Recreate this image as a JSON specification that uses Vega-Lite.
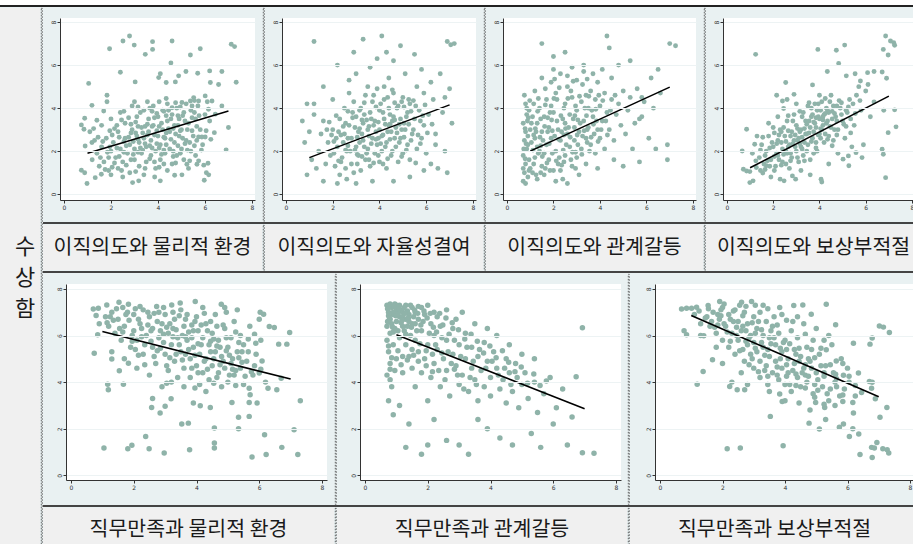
{
"$schema": "https://vega.github.io/schema/vega-lite/v6.json",
"padding": 0,
"background": "#e9f1f2",
"spacing": 0,
"config": {"concat": {"spacing": 0}, "view": {"stroke": null}, "font": "Noto Sans CJK KR"},
"datasets": {
"t1": [{"x":1.94,"y":6.76},{"x":2.51,"y":7.12},{"x":2.79,"y":7.35},{"x":2.99,"y":6.93},{"x":3.77,"y":7.09},{"x":3.77,"y":6.73},{"x":3.46,"y":6.5},{"x":4.6,"y":7.12},{"x":5.38,"y":6.47},{"x":5.8,"y":6.76},{"x":4.55,"y":6.1},{"x":2.4,"y":5.67},{"x":4.1,"y":5.6},{"x":3.03,"y":5.22},{"x":1.05,"y":5.15},{"x":5.19,"y":5.7},{"x":5.69,"y":5.62},{"x":6.2,"y":5.73},{"x":6.58,"y":5.1},{"x":6.72,"y":5.7},{"x":7.12,"y":6.97},{"x":7.26,"y":6.86},{"x":7.33,"y":5.2},{"x":7.0,"y":3.1},{"x":6.9,"y":2.06},{"x":4.03,"y":5.42},{"x":4.35,"y":5.19},{"x":4.74,"y":5.22},{"x":4.88,"y":5.5},{"x":1.83,"y":4.6},{"x":1.83,"y":4.3},{"x":1.19,"y":4.13},{"x":1.69,"y":3.87},{"x":0.88,"y":3.53},{"x":0.74,"y":3.22},{"x":0.85,"y":3.02},{"x":1.4,"y":3.44},{"x":1.26,"y":3.05},{"x":0.9,"y":2.24},{"x":1.19,"y":2.4},{"x":0.74,"y":1.11},{"x":0.88,"y":1.0},{"x":0.98,"y":0.5},{"x":1.33,"y":0.77},{"x":1.59,"y":0.93},{"x":2.0,"y":0.9},{"x":2.92,"y":0.54},{"x":3.18,"y":0.62},{"x":3.86,"y":0.8},{"x":4.1,"y":0.62},{"x":4.71,"y":0.88},{"x":5.02,"y":0.9},{"x":5.97,"y":0.65},{"x":6.16,"y":0.9},{"x":6.06,"y":1.0},{"x":6.13,"y":1.44},{"x":5.73,"y":1.55},{"x":5.66,"y":1.39},{"x":5.23,"y":1.39},{"x":6.4,"y":2.86},{"x":6.01,"y":2.66},{"x":5.73,"y":2.66},{"x":5.87,"y":2.66},{"x":6.44,"y":3.72},{"x":6.72,"y":4.1},{"x":6.3,"y":4.33},{"x":6.01,"y":4.57},{"x":5.52,"y":4.49},{"x":6.23,"y":5.19},{"x":5.73,"y":4.33},{"x":5.38,"y":4.33},{"x":5.02,"y":4.26},{"x":4.6,"y":4.02},{"x":1.2,"y":1.6},{"x":1.4,"y":1.9},{"x":1.5,"y":1.3},{"x":1.6,"y":2.2},{"x":1.7,"y":1.5},{"x":1.8,"y":2.6},{"x":1.9,"y":1.1},{"x":2.0,"y":2.0},{"x":2.1,"y":2.4},{"x":2.2,"y":1.7},{"x":2.3,"y":1.2},{"x":2.3,"y":2.9},{"x":2.4,"y":2.1},{"x":2.5,"y":1.5},{"x":2.6,"y":2.6},{"x":2.6,"y":3.3},{"x":2.7,"y":1.9},{"x":2.8,"y":1.0},{"x":2.8,"y":2.3},{"x":2.9,"y":3.0},{"x":3.0,"y":1.6},{"x":3.0,"y":2.1},{"x":3.1,"y":2.7},{"x":3.1,"y":3.6},{"x":3.2,"y":1.3},{"x":3.2,"y":2.4},{"x":3.3,"y":3.1},{"x":3.3,"y":1.9},{"x":3.4,"y":2.6},{"x":3.4,"y":3.9},{"x":3.5,"y":1.5},{"x":3.5,"y":2.2},{"x":3.6,"y":2.9},{"x":3.6,"y":3.5},{"x":3.7,"y":1.8},{"x":3.7,"y":2.5},{"x":3.8,"y":3.2},{"x":3.8,"y":4.1},{"x":3.9,"y":1.2},{"x":3.9,"y":2.0},{"x":4.0,"y":2.7},{"x":4.0,"y":3.6},{"x":4.1,"y":1.6},{"x":4.1,"y":2.3},{"x":4.2,"y":3.0},{"x":4.2,"y":3.9},{"x":4.3,"y":1.9},{"x":4.3,"y":2.6},{"x":4.4,"y":3.4},{"x":4.4,"y":4.2},{"x":4.5,"y":2.1},{"x":4.5,"y":2.9},{"x":4.6,"y":1.4},{"x":4.6,"y":3.7},{"x":4.7,"y":2.4},{"x":4.7,"y":3.2},{"x":4.8,"y":1.8},{"x":4.8,"y":4.0},{"x":4.9,"y":2.7},{"x":4.9,"y":3.5},{"x":5.0,"y":2.1},{"x":5.0,"y":3.0},{"x":5.1,"y":3.8},{"x":5.1,"y":1.6},{"x":5.2,"y":2.5},{"x":5.2,"y":4.2},{"x":5.3,"y":3.3},{"x":5.4,"y":2.0},{"x":5.4,"y":3.9},{"x":5.5,"y":2.7},{"x":5.6,"y":3.5},{"x":5.6,"y":1.8},{"x":5.7,"y":4.1},{"x":5.8,"y":3.0},{"x":5.9,"y":2.3},{"x":6.0,"y":3.7},{"x":6.1,"y":4.3},{"x":6.2,"y":3.4},{"x":1.1,"y":2.9},{"x":1.3,"y":2.5},{"x":1.6,"y":3.2},{"x":2.0,"y":3.5},{"x":2.4,"y":3.8},{"x":2.9,"y":4.1},{"x":3.0,"y":4.3},{"x":1.9,"y":1.7},{"x":2.5,"y":0.8},{"x":3.4,"y":0.9},{"x":4.4,"y":1.1},{"x":5.3,"y":1.2},{"x":2.15,"y":1.45},{"x":2.35,"y":2.65},{"x":2.55,"y":1.95},{"x":2.75,"y":3.55},{"x":2.95,"y":2.45},{"x":3.15,"y":1.95},{"x":3.35,"y":2.85},{"x":3.55,"y":3.25},{"x":3.75,"y":2.15},{"x":3.95,"y":2.95},{"x":4.15,"y":3.3},{"x":4.35,"y":2.3},{"x":4.55,"y":3.5},{"x":4.75,"y":2.8},{"x":4.95,"y":1.9},{"x":5.15,"y":3.4},{"x":5.35,"y":2.4},{"x":5.55,"y":3.8},{"x":3.25,"y":3.8},{"x":3.65,"y":4.0},{"x":4.05,"y":4.3},{"x":4.45,"y":3.9},{"x":4.85,"y":3.2},{"x":5.05,"y":2.6},{"x":2.45,"y":1.1},{"x":2.85,"y":1.6},{"x":3.45,"y":1.2},{"x":3.85,"y":1.5},{"x":4.25,"y":1.4},{"x":4.65,"y":2.0},{"x":1.75,"y":1.15},{"x":2.05,"y":2.75},{"x":2.65,"y":2.25},{"x":3.05,"y":3.35},{"x":3.45,"y":2.35},{"x":3.85,"y":2.75},{"x":4.25,"y":2.05},{"x":4.65,"y":3.05},{"x":5.25,"y":3.0},{"x":5.65,"y":2.5},{"x":3.95,"y":3.75},{"x":4.35,"y":3.65},{"x":4.75,"y":4.25},{"x":5.45,"y":4.1},{"x":3.55,"y":4.3},{"x":2.25,"y":3.2},{"x":1.95,"y":2.2},{"x":1.55,"y":1.7},{"x":3.15,"y":2.55},{"x":4.05,"y":2.15},{"x":1.65,"y":2.45},{"x":1.85,"y":1.95},{"x":2.05,"y":1.25},{"x":2.25,"y":2.15},{"x":2.45,"y":3.45},{"x":2.65,"y":1.35},{"x":2.85,"y":2.85},{"x":3.05,"y":1.05},{"x":3.25,"y":2.15},{"x":3.45,"y":3.15},{"x":3.65,"y":1.65},{"x":3.85,"y":3.55},{"x":4.05,"y":1.25},{"x":4.25,"y":2.65},{"x":4.45,"y":3.05},{"x":4.65,"y":1.75},{"x":4.85,"y":2.25},{"x":5.05,"y":3.65},{"x":5.25,"y":2.05},{"x":5.45,"y":2.95},{"x":5.65,"y":3.15},{"x":5.85,"y":2.05},{"x":6.05,"y":2.95},{"x":6.25,"y":2.55},{"x":1.45,"y":2.65},{"x":2.15,"y":3.05},{"x":2.75,"y":2.65},{"x":3.35,"y":2.05},{"x":3.95,"y":2.35},{"x":4.55,"y":2.55},{"x":5.15,"y":2.35},{"x":5.75,"y":3.65},{"x":2.55,"y":3.85},{"x":3.15,"y":4.05},{"x":3.75,"y":3.85},{"x":4.35,"y":4.45},{"x":4.95,"y":4.05},{"x":5.55,"y":4.35},{"x":6.15,"y":3.95},{"x":2.35,"y":1.75},{"x":2.95,"y":1.85},{"x":3.55,"y":2.75},{"x":4.15,"y":1.85},{"x":4.75,"y":1.45},{"x":5.35,"y":1.55},{"x":5.95,"y":1.35},{"x":1.95,"y":2.95},{"x":2.55,"y":2.45},{"x":3.15,"y":3.15},{"x":3.75,"y":3.15},{"x":4.35,"y":2.85},{"x":4.95,"y":2.95},{"x":5.55,"y":2.25},{"x":3.05,"y":2.85},{"x":3.65,"y":2.25},{"x":4.25,"y":3.85},{"x":4.85,"y":3.65},{"x":5.45,"y":3.55},{"x":2.85,"y":3.25},{"x":4.05,"y":3.15}],
"t2": [{"x":1.2,"y":7.1},{"x":2.9,"y":6.6},{"x":3.3,"y":7.2},{"x":4.1,"y":7.35},{"x":4.3,"y":6.6},{"x":4.9,"y":6.9},{"x":4.6,"y":6.2},{"x":5.5,"y":6.5},{"x":6.9,"y":7.1},{"x":7.05,"y":6.95},{"x":7.2,"y":7.0},{"x":2.2,"y":6.0},{"x":3.6,"y":5.9},{"x":3.9,"y":6.3},{"x":5.8,"y":5.8},{"x":6.6,"y":5.6},{"x":6.2,"y":5.2},{"x":7.0,"y":4.9},{"x":5.1,"y":5.6},{"x":4.4,"y":5.4},{"x":2.7,"y":5.3},{"x":1.6,"y":5.0},{"x":3.0,"y":5.6},{"x":0.9,"y":4.2},{"x":1.2,"y":4.2},{"x":0.7,"y":3.4},{"x":1.0,"y":2.9},{"x":0.8,"y":2.4},{"x":1.1,"y":1.6},{"x":1.3,"y":1.2},{"x":0.9,"y":0.9},{"x":1.6,"y":0.6},{"x":2.2,"y":0.5},{"x":1.4,"y":2.0},{"x":1.7,"y":1.4},{"x":6.5,"y":1.2},{"x":6.9,"y":1.0},{"x":6.2,"y":1.4},{"x":6.8,"y":2.0},{"x":6.4,"y":2.8},{"x":5.9,"y":1.1},{"x":5.3,"y":0.8},{"x":4.6,"y":0.6},{"x":3.7,"y":0.6},{"x":3.0,"y":0.5},{"x":2.6,"y":0.7},{"x":7.1,"y":3.3},{"x":6.7,"y":3.8},{"x":6.3,"y":4.4},{"x":5.9,"y":4.7},{"x":5.6,"y":5.0},{"x":6.8,"y":4.5},{"x":1.8,"y":2.4},{"x":1.9,"y":1.8},{"x":2.0,"y":3.0},{"x":2.1,"y":1.3},{"x":2.2,"y":2.2},{"x":2.3,"y":3.5},{"x":2.4,"y":1.7},{"x":2.5,"y":2.8},{"x":2.5,"y":4.0},{"x":2.6,"y":2.0},{"x":2.7,"y":3.2},{"x":2.8,"y":1.4},{"x":2.8,"y":2.6},{"x":2.9,"y":4.3},{"x":3.0,"y":2.2},{"x":3.0,"y":3.6},{"x":3.1,"y":1.8},{"x":3.1,"y":2.9},{"x":3.2,"y":4.0},{"x":3.2,"y":1.1},{"x":3.3,"y":2.5},{"x":3.3,"y":3.3},{"x":3.4,"y":4.6},{"x":3.4,"y":1.6},{"x":3.5,"y":2.1},{"x":3.5,"y":3.0},{"x":3.6,"y":3.8},{"x":3.6,"y":1.3},{"x":3.7,"y":2.6},{"x":3.7,"y":4.3},{"x":3.8,"y":1.9},{"x":3.8,"y":3.4},{"x":3.9,"y":2.3},{"x":3.9,"y":4.9},{"x":4.0,"y":1.5},{"x":4.0,"y":3.0},{"x":4.0,"y":3.9},{"x":4.1,"y":2.0},{"x":4.1,"y":2.7},{"x":4.2,"y":3.5},{"x":4.2,"y":4.4},{"x":4.3,"y":1.2},{"x":4.3,"y":2.4},{"x":4.4,"y":3.2},{"x":4.4,"y":4.0},{"x":4.5,"y":1.8},{"x":4.5,"y":2.9},{"x":4.6,"y":3.6},{"x":4.6,"y":4.7},{"x":4.7,"y":2.2},{"x":4.7,"y":3.1},{"x":4.8,"y":1.5},{"x":4.8,"y":4.1},{"x":4.9,"y":2.6},{"x":4.9,"y":3.5},{"x":5.0,"y":1.9},{"x":5.0,"y":4.5},{"x":5.1,"y":3.0},{"x":5.2,"y":2.3},{"x":5.2,"y":3.8},{"x":5.3,"y":1.6},{"x":5.3,"y":4.2},{"x":5.4,"y":2.8},{"x":5.5,"y":3.5},{"x":5.6,"y":2.1},{"x":5.7,"y":3.9},{"x":5.8,"y":2.6},{"x":5.9,"y":3.2},{"x":6.0,"y":1.9},{"x":6.1,"y":3.7},{"x":1.5,"y":2.8},{"x":1.6,"y":3.4},{"x":2.0,"y":4.4},{"x":2.3,"y":0.9},{"x":2.7,"y":4.7},{"x":1.2,"y":3.7},{"x":2.9,"y":1.0},{"x":3.5,"y":5.0},{"x":4.2,"y":5.0},{"x":6.4,"y":2.3},{"x":2.15,"y":2.6},{"x":2.35,"y":1.5},{"x":2.55,"y":3.3},{"x":2.75,"y":2.0},{"x":2.95,"y":3.1},{"x":3.15,"y":2.4},{"x":3.35,"y":3.7},{"x":3.55,"y":2.7},{"x":3.75,"y":3.2},{"x":3.95,"y":2.6},{"x":4.15,"y":3.8},{"x":4.35,"y":2.9},{"x":4.55,"y":3.4},{"x":4.75,"y":4.0},{"x":4.95,"y":3.0},{"x":5.15,"y":3.6},{"x":5.35,"y":2.5},{"x":5.55,"y":4.1},{"x":3.05,"y":1.4},{"x":3.45,"y":1.9},{"x":3.85,"y":2.9},{"x":4.25,"y":2.2},{"x":4.65,"y":2.6},{"x":5.05,"y":3.3},{"x":2.45,"y":2.4},{"x":2.85,"y":3.8},{"x":3.25,"y":2.8},{"x":3.65,"y":3.5},{"x":4.05,"y":4.2},{"x":4.45,"y":3.7},{"x":4.85,"y":2.4},{"x":5.25,"y":4.4},{"x":2.05,"y":1.9},{"x":2.65,"y":2.6},{"x":3.35,"y":2.2},{"x":3.95,"y":1.8},{"x":4.55,"y":2.0},{"x":5.45,"y":3.0},{"x":2.25,"y":2.9},{"x":3.15,"y":3.9},{"x":3.75,"y":4.6},{"x":4.35,"y":4.5},{"x":4.95,"y":4.3},{"x":5.75,"y":3.4},{"x":1.75,"y":3.0},{"x":2.55,"y":1.2},{"x":3.55,"y":1.6},{"x":4.15,"y":1.4},{"x":1.85,"y":3.35},{"x":2.05,"y":2.45},{"x":2.25,"y":1.55},{"x":2.45,"y":3.15},{"x":2.65,"y":2.25},{"x":2.85,"y":3.55},{"x":3.05,"y":2.65},{"x":3.25,"y":1.75},{"x":3.45,"y":3.45},{"x":3.65,"y":2.35},{"x":3.85,"y":4.05},{"x":4.05,"y":2.35},{"x":4.25,"y":3.25},{"x":4.45,"y":2.55},{"x":4.65,"y":4.25},{"x":4.85,"y":3.25},{"x":5.05,"y":2.65},{"x":5.25,"y":3.25},{"x":5.45,"y":4.35},{"x":5.65,"y":2.75},{"x":5.85,"y":3.65},{"x":6.05,"y":2.85},{"x":2.35,"y":2.75},{"x":2.95,"y":2.05},{"x":3.55,"y":3.15},{"x":4.15,"y":2.75},{"x":4.75,"y":2.85},{"x":5.35,"y":3.85},{"x":5.95,"y":4.15},{"x":2.65,"y":3.85},{"x":3.25,"y":3.45},{"x":3.85,"y":2.55},{"x":4.45,"y":3.25},{"x":5.05,"y":4.05},{"x":2.15,"y":3.65},{"x":3.35,"y":4.25},{"x":4.55,"y":4.85},{"x":3.05,"y":1.85},{"x":3.75,"y":1.45},{"x":4.35,"y":1.65},{"x":4.95,"y":1.75},{"x":5.55,"y":1.45},{"x":2.55,"y":2.05},{"x":3.15,"y":3.05},{"x":3.95,"y":3.35},{"x":4.65,"y":3.45},{"x":5.15,"y":2.05},{"x":5.75,"y":2.35},{"x":6.25,"y":3.25},{"x":1.95,"y":2.75}],
"t3": [{"x":0.7,"y":0.6},{"x":0.75,"y":1.0},{"x":0.8,"y":1.4},{"x":0.7,"y":1.8},{"x":0.85,"y":2.1},{"x":0.75,"y":2.5},{"x":0.8,"y":2.9},{"x":0.7,"y":3.3},{"x":0.85,"y":3.7},{"x":0.8,"y":4.2},{"x":0.9,"y":0.8},{"x":0.95,"y":1.6},{"x":0.9,"y":2.3},{"x":1.0,"y":3.0},{"x":0.95,"y":3.9},{"x":0.7,"y":1.2},{"x":0.8,"y":0.5},{"x":1.0,"y":1.2},{"x":0.9,"y":2.7},{"x":0.75,"y":4.6},{"x":1.1,"y":1.0},{"x":1.2,"y":1.7},{"x":1.2,"y":2.6},{"x":1.3,"y":3.3},{"x":1.3,"y":0.7},{"x":1.4,"y":2.0},{"x":1.4,"y":4.0},{"x":1.5,"y":1.3},{"x":1.5,"y":2.9},{"x":1.6,"y":3.6},{"x":1.6,"y":0.9},{"x":1.7,"y":2.3},{"x":1.7,"y":4.4},{"x":1.8,"y":1.6},{"x":1.8,"y":3.1},{"x":1.9,"y":2.6},{"x":1.9,"y":5.2},{"x":2.0,"y":1.1},{"x":2.0,"y":3.8},{"x":2.1,"y":2.0},{"x":2.1,"y":4.7},{"x":2.2,"y":3.0},{"x":2.2,"y":1.4},{"x":2.3,"y":2.5},{"x":2.3,"y":5.6},{"x":2.4,"y":3.5},{"x":2.4,"y":0.7},{"x":2.5,"y":1.8},{"x":2.5,"y":4.2},{"x":2.6,"y":2.8},{"x":2.6,"y":5.0},{"x":2.7,"y":2.2},{"x":2.7,"y":3.7},{"x":2.8,"y":1.3},{"x":2.8,"y":4.5},{"x":2.9,"y":3.1},{"x":2.9,"y":2.5},{"x":3.0,"y":1.7},{"x":3.0,"y":5.3},{"x":3.0,"y":3.9},{"x":3.1,"y":2.9},{"x":3.2,"y":4.3},{"x":3.2,"y":2.1},{"x":3.3,"y":3.4},{"x":3.3,"y":5.7},{"x":3.4,"y":1.4},{"x":3.4,"y":2.6},{"x":3.5,"y":4.0},{"x":3.5,"y":3.1},{"x":3.6,"y":4.8},{"x":3.6,"y":2.3},{"x":3.7,"y":3.6},{"x":3.8,"y":4.4},{"x":3.8,"y":1.9},{"x":3.9,"y":3.0},{"x":3.9,"y":5.2},{"x":4.0,"y":2.6},{"x":4.0,"y":4.1},{"x":4.1,"y":3.4},{"x":4.2,"y":4.7},{"x":4.2,"y":2.1},{"x":4.3,"y":3.8},{"x":4.4,"y":3.0},{"x":4.5,"y":4.4},{"x":4.5,"y":5.4},{"x":4.6,"y":2.5},{"x":4.7,"y":3.7},{"x":4.8,"y":4.2},{"x":4.9,"y":3.2},{"x":5.0,"y":4.8},{"x":5.1,"y":2.8},{"x":5.2,"y":3.9},{"x":5.3,"y":4.5},{"x":5.5,"y":3.3},{"x":5.6,"y":4.9},{"x":5.8,"y":3.6},{"x":5.9,"y":4.3},{"x":6.1,"y":2.6},{"x":6.3,"y":4.0},{"x":6.6,"y":4.7},{"x":6.9,"y":2.3},{"x":1.2,"y":4.8},{"x":1.5,"y":5.4},{"x":2.0,"y":5.8},{"x":2.8,"y":5.9},{"x":3.7,"y":5.6},{"x":4.1,"y":5.8},{"x":1.6,"y":1.9},{"x":2.3,"y":1.1},{"x":1.3,"y":2.2},{"x":2.6,"y":0.5},{"x":3.1,"y":0.9},{"x":3.9,"y":1.2},{"x":4.6,"y":1.6},{"x":5.4,"y":2.1},{"x":5.7,"y":1.5},{"x":1.1,"y":3.6},{"x":2.5,"y":3.3},{"x":3.4,"y":4.6},{"x":1.9,"y":4.1},{"x":2.1,"y":0.6},{"x":1.5,"y":7.0},{"x":2.0,"y":6.4},{"x":4.3,"y":7.35},{"x":4.4,"y":6.8},{"x":7.0,"y":7.0},{"x":7.25,"y":6.9},{"x":3.3,"y":6.0},{"x":2.6,"y":5.5},{"x":5.7,"y":3.5},{"x":5.8,"y":4.5},{"x":6.2,"y":5.4},{"x":6.5,"y":5.8},{"x":5.3,"y":6.2},{"x":4.8,"y":6.0},{"x":2.5,"y":6.6},{"x":6.9,"y":1.6},{"x":6.4,"y":2.1},{"x":5.0,"y":1.3},{"x":1.15,"y":1.4},{"x":1.25,"y":2.9},{"x":1.35,"y":1.9},{"x":1.45,"y":3.5},{"x":1.55,"y":2.5},{"x":1.65,"y":1.2},{"x":1.75,"y":2.9},{"x":1.85,"y":3.8},{"x":1.95,"y":1.9},{"x":2.05,"y":2.7},{"x":2.15,"y":3.4},{"x":2.25,"y":1.7},{"x":2.35,"y":2.9},{"x":2.45,"y":4.0},{"x":2.55,"y":2.3},{"x":2.65,"y":3.1},{"x":2.75,"y":1.6},{"x":2.85,"y":3.5},{"x":2.95,"y":4.1},{"x":3.05,"y":2.3},{"x":3.15,"y":3.3},{"x":3.25,"y":2.7},{"x":3.35,"y":4.0},{"x":3.45,"y":3.0},{"x":3.55,"y":2.0},{"x":3.65,"y":3.9},{"x":3.75,"y":2.8},{"x":3.85,"y":3.4},{"x":3.95,"y":4.6},{"x":4.05,"y":3.0},{"x":1.05,"y":2.4},{"x":1.05,"y":3.3},{"x":1.15,"y":4.2},{"x":1.25,"y":0.9},{"x":1.45,"y":1.0},{"x":1.85,"y":1.1},{"x":2.45,"y":1.5},{"x":2.95,"y":1.2},{"x":3.45,"y":2.4},{"x":4.25,"y":3.4},{"x":4.45,"y":3.9},{"x":4.65,"y":4.6},{"x":2.15,"y":4.4},{"x":1.65,"y":4.9},{"x":2.75,"y":4.8},{"x":3.25,"y":5.1},{"x":0.85,"y":4.0},{"x":0.95,"y":1.1},{"x":0.72,"y":2.1},{"x":0.88,"y":3.4},{"x":0.78,"y":1.65},{"x":0.82,"y":2.35},{"x":0.78,"y":3.05},{"x":0.92,"y":3.55},{"x":0.98,"y":4.35},{"x":1.12,"y":2.05},{"x":1.22,"y":3.05},{"x":1.32,"y":3.85},{"x":1.42,"y":2.65},{"x":1.52,"y":1.75},{"x":1.62,"y":3.15},{"x":1.72,"y":1.45},{"x":1.82,"y":2.35},{"x":1.92,"y":3.45},{"x":2.02,"y":4.45},{"x":2.12,"y":1.55},{"x":2.22,"y":2.55},{"x":2.32,"y":3.65},{"x":2.42,"y":2.05},{"x":2.52,"y":3.05},{"x":2.62,"y":4.45},{"x":2.72,"y":2.65},{"x":2.82,"y":1.95},{"x":2.92,"y":3.65},{"x":3.02,"y":2.75},{"x":3.12,"y":4.55},{"x":3.22,"y":1.85},{"x":3.32,"y":2.95},{"x":3.42,"y":3.65},{"x":3.52,"y":4.55},{"x":3.62,"y":2.65},{"x":3.72,"y":3.25},{"x":3.82,"y":3.95},{"x":3.92,"y":2.45},{"x":4.12,"y":4.35},{"x":4.32,"y":2.75},{"x":1.35,"y":4.45},{"x":1.75,"y":3.55},{"x":2.25,"y":4.95},{"x":2.85,"y":5.25},{"x":3.45,"y":5.35},{"x":2.05,"y":5.35},{"x":1.45,"y":2.25},{"x":1.95,"y":2.95},{"x":2.45,"y":2.75},{"x":2.95,"y":1.95},{"x":1.15,"y":2.75},{"x":1.65,"y":4.15},{"x":2.35,"y":1.35},{"x":3.05,"y":3.45}],
"t4": [{"x":1.24,"y":6.5},{"x":3.93,"y":6.73},{"x":4.73,"y":6.69},{"x":5.09,"y":6.93},{"x":4.83,"y":6.08},{"x":4.34,"y":5.7},{"x":3.7,"y":5.08},{"x":2.54,"y":5.19},{"x":2.15,"y":4.6},{"x":2.4,"y":4.33},{"x":2.9,"y":4.64},{"x":2.45,"y":3.98},{"x":0.85,"y":3.02},{"x":0.66,"y":2.01},{"x":1.2,"y":2.32},{"x":6.86,"y":7.35},{"x":7.07,"y":7.12},{"x":7.21,"y":7.04},{"x":7.25,"y":6.92},{"x":6.76,"y":6.73},{"x":6.97,"y":6.47},{"x":6.9,"y":5.39},{"x":6.71,"y":5.68},{"x":6.36,"y":5.7},{"x":6.08,"y":5.65},{"x":5.77,"y":5.26},{"x":5.54,"y":5.6},{"x":5.16,"y":5.5},{"x":7.25,"y":3.92},{"x":6.78,"y":3.9},{"x":6.36,"y":4.29},{"x":7.31,"y":3.13},{"x":6.97,"y":2.86},{"x":6.71,"y":2.09},{"x":6.76,"y":1.86},{"x":6.86,"y":0.77},{"x":5.84,"y":1.7},{"x":5.58,"y":1.93},{"x":5.25,"y":1.78},{"x":5.27,"y":1.32},{"x":5.02,"y":1.63},{"x":4.1,"y":0.57},{"x":4.07,"y":0.7},{"x":2.47,"y":0.62},{"x":2.83,"y":0.85},{"x":2.97,"y":0.7},{"x":0.99,"y":0.54},{"x":1.13,"y":0.62},{"x":0.71,"y":1.16},{"x":0.85,"y":1.08},{"x":0.99,"y":1.05},{"x":1.27,"y":1.24},{"x":1.55,"y":0.98},{"x":1.7,"y":1.32},{"x":1.4,"y":1.7},{"x":1.5,"y":2.3},{"x":1.6,"y":1.4},{"x":1.7,"y":2.0},{"x":1.8,"y":2.7},{"x":1.9,"y":1.6},{"x":2.0,"y":2.2},{"x":2.0,"y":3.1},{"x":2.1,"y":1.3},{"x":2.2,"y":2.5},{"x":2.2,"y":1.8},{"x":2.3,"y":3.0},{"x":2.4,"y":2.1},{"x":2.4,"y":1.5},{"x":2.5,"y":2.7},{"x":2.6,"y":1.9},{"x":2.6,"y":3.4},{"x":2.7,"y":2.3},{"x":2.7,"y":1.2},{"x":2.8,"y":2.9},{"x":2.8,"y":1.7},{"x":2.9,"y":2.5},{"x":2.9,"y":3.7},{"x":3.0,"y":2.0},{"x":3.0,"y":3.2},{"x":3.1,"y":1.5},{"x":3.1,"y":2.6},{"x":3.2,"y":3.0},{"x":3.2,"y":2.2},{"x":3.3,"y":3.8},{"x":3.3,"y":1.8},{"x":3.4,"y":2.8},{"x":3.4,"y":3.4},{"x":3.5,"y":2.3},{"x":3.5,"y":4.1},{"x":3.6,"y":3.1},{"x":3.6,"y":1.6},{"x":3.7,"y":3.7},{"x":3.7,"y":2.6},{"x":3.8,"y":4.2},{"x":3.8,"y":3.3},{"x":3.9,"y":2.0},{"x":3.9,"y":3.9},{"x":4.0,"y":3.5},{"x":4.0,"y":2.8},{"x":4.1,"y":4.3},{"x":4.1,"y":3.0},{"x":4.2,"y":3.7},{"x":4.2,"y":2.4},{"x":4.3,"y":4.0},{"x":4.3,"y":3.3},{"x":4.4,"y":2.7},{"x":4.4,"y":3.8},{"x":4.5,"y":3.1},{"x":4.6,"y":4.1},{"x":4.6,"y":2.5},{"x":4.7,"y":3.6},{"x":4.8,"y":3.0},{"x":4.9,"y":4.0},{"x":5.0,"y":3.4},{"x":5.1,"y":2.6},{"x":5.2,"y":3.8},{"x":5.3,"y":4.4},{"x":5.5,"y":3.2},{"x":5.6,"y":4.6},{"x":5.8,"y":3.9},{"x":6.0,"y":4.8},{"x":6.2,"y":3.6},{"x":5.9,"y":2.3},{"x":5.4,"y":2.2},{"x":3.2,"y":1.1},{"x":3.6,"y":0.9},{"x":2.2,"y":3.6},{"x":1.8,"y":3.3},{"x":1.1,"y":1.9},{"x":1.3,"y":2.7},{"x":4.5,"y":4.6},{"x":4.0,"y":4.6},{"x":5.7,"y":5.0},{"x":6.1,"y":5.1},{"x":3.0,"y":4.2},{"x":2.6,"y":4.4},{"x":1.9,"y":0.8},{"x":2.3,"y":0.7},{"x":4.8,"y":1.9},{"x":4.4,"y":1.4},{"x":2.15,"y":1.9},{"x":2.35,"y":2.4},{"x":2.55,"y":2.0},{"x":2.75,"y":2.7},{"x":2.95,"y":2.2},{"x":3.15,"y":2.9},{"x":3.35,"y":2.4},{"x":3.55,"y":3.4},{"x":3.75,"y":2.9},{"x":3.95,"y":3.6},{"x":4.15,"y":3.2},{"x":4.35,"y":3.9},{"x":4.55,"y":3.5},{"x":4.75,"y":4.1},{"x":4.95,"y":3.7},{"x":3.05,"y":1.7},{"x":3.45,"y":2.0},{"x":3.85,"y":2.4},{"x":4.25,"y":2.8},{"x":4.65,"y":3.0},{"x":2.45,"y":3.1},{"x":2.85,"y":3.4},{"x":3.25,"y":3.6},{"x":3.65,"y":4.0},{"x":4.05,"y":3.9},{"x":4.45,"y":4.3},{"x":3.85,"y":3.1},{"x":4.15,"y":3.6},{"x":3.45,"y":2.8},{"x":3.05,"y":2.5},{"x":2.65,"y":2.2},{"x":2.25,"y":1.6},{"x":1.85,"y":1.3},{"x":1.65,"y":1.8},{"x":1.95,"y":2.4},{"x":3.65,"y":3.6},{"x":3.95,"y":4.2},{"x":4.35,"y":3.4},{"x":4.75,"y":3.4},{"x":5.15,"y":3.9},{"x":5.45,"y":4.2},{"x":5.35,"y":3.5},{"x":2.35,"y":2.9},{"x":2.75,"y":1.9},{"x":3.25,"y":2.1},{"x":3.75,"y":1.9},{"x":4.05,"y":2.6},{"x":1.45,"y":1.1},{"x":2.05,"y":1.1},{"x":2.55,"y":1.4},{"x":1.25,"y":1.55},{"x":1.45,"y":2.05},{"x":1.65,"y":1.15},{"x":1.85,"y":2.15},{"x":2.05,"y":1.75},{"x":2.25,"y":2.75},{"x":2.45,"y":1.85},{"x":2.65,"y":2.95},{"x":2.85,"y":2.35},{"x":3.05,"y":3.05},{"x":3.25,"y":2.65},{"x":3.45,"y":3.25},{"x":3.65,"y":2.45},{"x":3.85,"y":3.55},{"x":4.05,"y":3.05},{"x":4.25,"y":3.75},{"x":4.45,"y":3.15},{"x":4.65,"y":3.75},{"x":4.85,"y":4.35},{"x":5.05,"y":3.25},{"x":5.25,"y":4.05},{"x":5.55,"y":3.75},{"x":5.75,"y":4.35},{"x":2.15,"y":2.35},{"x":2.55,"y":2.45},{"x":2.95,"y":2.75},{"x":3.35,"y":3.05},{"x":3.75,"y":3.35},{"x":4.15,"y":3.45},{"x":4.55,"y":3.85},{"x":4.95,"y":4.25},{"x":1.75,"y":1.55},{"x":2.35,"y":1.35},{"x":2.75,"y":1.55},{"x":3.15,"y":2.35},{"x":3.55,"y":2.85},{"x":3.95,"y":2.75},{"x":4.35,"y":2.55},{"x":4.75,"y":2.75},{"x":5.15,"y":3.15},{"x":1.55,"y":2.65},{"x":2.05,"y":2.85},{"x":2.65,"y":3.65},{"x":3.15,"y":3.85},{"x":3.55,"y":4.25},{"x":4.25,"y":4.45},{"x":3.35,"y":1.55},{"x":3.85,"y":2.15},{"x":4.55,"y":2.25},{"x":5.35,"y":2.85}],
"b1": [{"x":0.71,"y":7.14},{"x":0.87,"y":7.17},{"x":0.8,"y":6.86},{"x":0.85,"y":6.03},{"x":0.74,"y":5.24},{"x":1.3,"y":4.99},{"x":1.17,"y":3.91},{"x":1.19,"y":3.67},{"x":1.67,"y":3.91},{"x":1.54,"y":4.49},{"x":1.83,"y":4.81},{"x":1.05,"y":1.17},{"x":1.81,"y":1.14},{"x":1.94,"y":1.29},{"x":2.38,"y":1.67},{"x":2.49,"y":1.14},{"x":2.97,"y":0.96},{"x":2.57,"y":2.91},{"x":2.84,"y":2.67},{"x":3.0,"y":2.96},{"x":3.19,"y":3.29},{"x":3.53,"y":2.2},{"x":3.74,"y":2.24},{"x":3.78,"y":1.1},{"x":3.9,"y":3.1},{"x":4.12,"y":2.99},{"x":4.44,"y":2.91},{"x":4.57,"y":2.03},{"x":4.57,"y":1.39},{"x":4.57,"y":1.17},{"x":5.13,"y":3.13},{"x":5.34,"y":2.49},{"x":5.34,"y":2.0},{"x":5.68,"y":2.53},{"x":5.68,"y":3.13},{"x":5.93,"y":3.1},{"x":5.77,"y":0.79},{"x":6.22,"y":0.89},{"x":6.17,"y":1.74},{"x":6.72,"y":1.2},{"x":7.11,"y":1.96},{"x":7.23,"y":0.89},{"x":7.31,"y":3.2},{"x":6.97,"y":6.13},{"x":6.32,"y":6.39},{"x":6.48,"y":6.34},{"x":6.62,"y":5.63},{"x":6.88,"y":5.63},{"x":6.03,"y":7.0},{"x":6.14,"y":6.91},{"x":5.89,"y":5.67},{"x":6.09,"y":4.91},{"x":6.0,"y":4.39},{"x":6.28,"y":3.74},{"x":6.56,"y":3.67},{"x":6.7,"y":4.17},{"x":5.68,"y":3.74},{"x":5.71,"y":3.46},{"x":4.95,"y":7.0},{"x":4.79,"y":7.34},{"x":3.96,"y":7.46},{"x":3.48,"y":7.39},{"x":3.21,"y":7.31},{"x":2.73,"y":7.24},{"x":2.2,"y":7.24},{"x":1.83,"y":7.34},{"x":1.53,"y":7.43},{"x":1.14,"y":7.31},{"x":1.1,"y":6.8},{"x":1.2,"y":6.4},{"x":1.3,"y":7.0},{"x":1.4,"y":6.1},{"x":1.5,"y":6.7},{"x":1.6,"y":5.8},{"x":1.7,"y":6.4},{"x":1.8,"y":7.0},{"x":1.9,"y":5.5},{"x":2.0,"y":6.2},{"x":2.0,"y":6.9},{"x":2.1,"y":5.8},{"x":2.2,"y":6.5},{"x":2.3,"y":5.2},{"x":2.3,"y":7.1},{"x":2.4,"y":6.0},{"x":2.5,"y":6.8},{"x":2.6,"y":5.5},{"x":2.6,"y":6.3},{"x":2.7,"y":4.8},{"x":2.8,"y":7.0},{"x":2.8,"y":5.9},{"x":2.9,"y":6.5},{"x":3.0,"y":5.2},{"x":3.0,"y":6.9},{"x":3.1,"y":4.5},{"x":3.1,"y":6.1},{"x":3.2,"y":5.6},{"x":3.3,"y":6.7},{"x":3.3,"y":4.9},{"x":3.4,"y":5.9},{"x":3.5,"y":7.1},{"x":3.5,"y":5.3},{"x":3.6,"y":6.4},{"x":3.6,"y":4.6},{"x":3.7,"y":5.8},{"x":3.7,"y":6.9},{"x":3.8,"y":5.0},{"x":3.8,"y":4.2},{"x":3.9,"y":6.2},{"x":3.9,"y":5.5},{"x":4.0,"y":4.7},{"x":4.0,"y":6.8},{"x":4.1,"y":5.2},{"x":4.1,"y":3.9},{"x":4.2,"y":5.9},{"x":4.2,"y":4.4},{"x":4.3,"y":6.5},{"x":4.3,"y":5.0},{"x":4.4,"y":5.6},{"x":4.4,"y":4.1},{"x":4.5,"y":6.1},{"x":4.5,"y":4.7},{"x":4.6,"y":5.3},{"x":4.6,"y":6.9},{"x":4.7,"y":4.4},{"x":4.7,"y":5.8},{"x":4.8,"y":3.8},{"x":4.8,"y":5.1},{"x":4.9,"y":6.3},{"x":4.9,"y":4.6},{"x":5.0,"y":5.5},{"x":5.0,"y":4.0},{"x":5.1,"y":5.9},{"x":5.1,"y":4.8},{"x":5.2,"y":6.6},{"x":5.2,"y":4.3},{"x":5.3,"y":5.3},{"x":5.4,"y":4.6},{"x":5.4,"y":6.0},{"x":5.5,"y":3.9},{"x":5.5,"y":5.6},{"x":5.6,"y":4.9},{"x":5.7,"y":6.4},{"x":5.8,"y":4.3},{"x":5.9,"y":5.2},{"x":6.0,"y":6.7},{"x":6.2,"y":4.0},{"x":3.4,"y":4.2},{"x":2.9,"y":3.8},{"x":2.5,"y":4.3},{"x":2.1,"y":4.6},{"x":1.3,"y":5.3},{"x":0.9,"y":6.5},{"x":1.7,"y":5.0},{"x":3.2,"y":4.0},{"x":4.3,"y":3.6},{"x":3.6,"y":3.8},{"x":4.9,"y":7.2},{"x":5.3,"y":7.1},{"x":4.2,"y":7.2},{"x":2.6,"y":3.3},{"x":1.55,"y":6.3},{"x":1.75,"y":6.9},{"x":1.95,"y":6.0},{"x":2.15,"y":6.7},{"x":2.35,"y":5.6},{"x":2.55,"y":6.2},{"x":2.75,"y":6.6},{"x":2.95,"y":5.7},{"x":3.15,"y":6.5},{"x":3.35,"y":5.2},{"x":3.55,"y":6.0},{"x":3.75,"y":5.4},{"x":3.95,"y":6.6},{"x":4.15,"y":5.6},{"x":4.35,"y":6.2},{"x":4.55,"y":5.0},{"x":4.75,"y":5.5},{"x":4.95,"y":5.9},{"x":5.15,"y":5.0},{"x":5.35,"y":5.7},{"x":2.45,"y":7.0},{"x":2.85,"y":6.2},{"x":3.25,"y":7.0},{"x":3.65,"y":6.7},{"x":4.05,"y":6.2},{"x":4.45,"y":5.3},{"x":4.85,"y":4.9},{"x":5.25,"y":4.5},{"x":3.45,"y":5.6},{"x":3.85,"y":5.9},{"x":4.25,"y":4.9},{"x":4.65,"y":4.2},{"x":5.05,"y":4.3},{"x":5.45,"y":5.3},{"x":2.05,"y":5.4},{"x":2.65,"y":5.1},{"x":3.05,"y":4.7},{"x":3.65,"y":5.2},{"x":4.05,"y":4.4},{"x":4.45,"y":6.6},{"x":1.25,"y":6.8},{"x":1.65,"y":7.2},{"x":2.25,"y":6.3},{"x":3.25,"y":6.3},{"x":3.85,"y":4.6},{"x":4.65,"y":6.4},{"x":5.65,"y":5.3},{"x":5.85,"y":4.7},{"x":6.05,"y":5.8},{"x":2.95,"y":7.2},{"x":1.15,"y":6.55},{"x":1.35,"y":6.65},{"x":1.45,"y":7.15},{"x":1.65,"y":6.15},{"x":1.85,"y":6.65},{"x":2.05,"y":7.15},{"x":2.25,"y":5.95},{"x":2.45,"y":6.45},{"x":2.65,"y":6.95},{"x":2.85,"y":5.45},{"x":3.05,"y":6.35},{"x":3.25,"y":5.95},{"x":3.45,"y":6.85},{"x":3.65,"y":5.95},{"x":3.85,"y":6.45},{"x":4.05,"y":5.65},{"x":4.25,"y":6.95},{"x":4.45,"y":5.75},{"x":4.65,"y":5.55},{"x":4.85,"y":6.45},{"x":5.05,"y":5.15},{"x":5.25,"y":6.15},{"x":5.45,"y":4.85},{"x":5.65,"y":5.85},{"x":5.85,"y":6.05},{"x":6.05,"y":4.55},{"x":2.15,"y":5.15},{"x":2.55,"y":5.75},{"x":2.95,"y":6.05},{"x":3.35,"y":6.25},{"x":3.75,"y":6.15},{"x":4.15,"y":6.45},{"x":4.55,"y":5.85},{"x":4.95,"y":5.35},{"x":5.35,"y":5.05},{"x":5.75,"y":4.45},{"x":2.35,"y":4.75},{"x":2.75,"y":5.35},{"x":3.15,"y":5.05},{"x":3.55,"y":4.95},{"x":3.95,"y":5.15},{"x":4.35,"y":4.55},{"x":4.75,"y":4.75},{"x":5.15,"y":4.55},{"x":5.55,"y":4.25},{"x":3.05,"y":3.95},{"x":3.95,"y":3.75},{"x":4.55,"y":3.95},{"x":5.25,"y":3.85},{"x":1.95,"y":5.75}],
"b2": [{"x":0.7,"y":7.3},{"x":0.75,"y":7.0},{"x":0.8,"y":6.7},{"x":0.7,"y":6.4},{"x":0.85,"y":7.2},{"x":0.9,"y":6.9},{"x":0.8,"y":6.1},{"x":0.95,"y":7.35},{"x":1.0,"y":6.6},{"x":1.0,"y":7.1},{"x":1.1,"y":6.8},{"x":1.1,"y":7.3},{"x":1.2,"y":6.4},{"x":1.2,"y":7.0},{"x":1.3,"y":6.7},{"x":1.3,"y":7.3},{"x":1.4,"y":6.9},{"x":1.5,"y":7.2},{"x":1.5,"y":6.5},{"x":1.6,"y":7.0},{"x":1.7,"y":6.7},{"x":0.7,"y":5.8},{"x":0.75,"y":5.3},{"x":0.8,"y":4.8},{"x":0.7,"y":4.3},{"x":0.85,"y":3.8},{"x":0.75,"y":3.2},{"x":0.9,"y":5.6},{"x":1.0,"y":5.0},{"x":1.05,"y":6.2},{"x":0.9,"y":7.0},{"x":1.15,"y":7.1},{"x":1.35,"y":7.05},{"x":1.25,"y":6.2},{"x":1.45,"y":6.0},{"x":1.8,"y":7.2},{"x":1.9,"y":6.9},{"x":2.0,"y":7.3},{"x":2.1,"y":6.5},{"x":2.2,"y":7.0},{"x":1.3,"y":5.6},{"x":1.4,"y":5.1},{"x":1.5,"y":4.6},{"x":1.6,"y":5.8},{"x":1.7,"y":5.3},{"x":1.8,"y":4.4},{"x":1.8,"y":6.2},{"x":1.9,"y":5.0},{"x":2.0,"y":5.6},{"x":2.1,"y":4.2},{"x":2.2,"y":6.0},{"x":2.2,"y":4.8},{"x":2.3,"y":5.4},{"x":2.4,"y":3.8},{"x":2.4,"y":6.4},{"x":2.5,"y":5.0},{"x":2.6,"y":4.5},{"x":2.6,"y":5.8},{"x":2.7,"y":3.4},{"x":2.8,"y":5.2},{"x":2.8,"y":6.3},{"x":2.9,"y":4.7},{"x":3.0,"y":5.6},{"x":3.0,"y":3.9},{"x":3.1,"y":4.3},{"x":3.2,"y":5.0},{"x":3.2,"y":6.1},{"x":3.3,"y":3.6},{"x":3.4,"y":4.6},{"x":3.4,"y":5.5},{"x":3.5,"y":4.1},{"x":3.6,"y":5.1},{"x":3.6,"y":3.2},{"x":3.7,"y":4.5},{"x":3.8,"y":5.7},{"x":3.8,"y":3.8},{"x":3.9,"y":4.9},{"x":4.0,"y":4.2},{"x":4.0,"y":3.4},{"x":4.1,"y":5.3},{"x":4.2,"y":4.6},{"x":4.3,"y":3.7},{"x":4.4,"y":4.1},{"x":4.5,"y":5.0},{"x":4.5,"y":3.1},{"x":4.6,"y":4.4},{"x":4.7,"y":3.6},{"x":4.8,"y":4.8},{"x":4.9,"y":2.9},{"x":5.0,"y":3.9},{"x":5.1,"y":4.4},{"x":5.2,"y":3.3},{"x":5.4,"y":4.0},{"x":5.5,"y":2.7},{"x":5.7,"y":3.5},{"x":5.9,"y":4.2},{"x":6.1,"y":2.9},{"x":6.3,"y":3.7},{"x":2.3,"y":6.8},{"x":2.6,"y":7.1},{"x":2.9,"y":6.7},{"x":3.1,"y":7.0},{"x":3.5,"y":6.5},{"x":3.9,"y":6.3},{"x":4.2,"y":6.0},{"x":4.6,"y":5.6},{"x":5.0,"y":5.2},{"x":5.4,"y":5.0},{"x":1.2,"y":4.4},{"x":1.6,"y":3.8},{"x":2.0,"y":3.2},{"x":1.1,"y":3.0},{"x":6.93,"y":6.33},{"x":6.73,"y":4.23},{"x":1.3,"y":1.2},{"x":1.8,"y":0.9},{"x":2.0,"y":1.3},{"x":2.6,"y":1.5},{"x":3.0,"y":1.3},{"x":3.3,"y":0.9},{"x":3.9,"y":2.0},{"x":4.3,"y":1.6},{"x":4.7,"y":1.3},{"x":5.6,"y":1.2},{"x":6.45,"y":1.3},{"x":6.93,"y":0.97},{"x":7.3,"y":0.95},{"x":5.3,"y":1.8},{"x":6.0,"y":2.2},{"x":0.9,"y":2.6},{"x":1.4,"y":2.2},{"x":2.2,"y":2.4},{"x":3.6,"y":2.4},{"x":6.6,"y":2.5},{"x":0.75,"y":6.85},{"x":0.85,"y":6.5},{"x":0.95,"y":6.3},{"x":1.05,"y":6.95},{"x":1.15,"y":6.55},{"x":1.25,"y":7.2},{"x":1.35,"y":6.4},{"x":1.45,"y":7.3},{"x":1.55,"y":6.8},{"x":1.65,"y":6.2},{"x":0.8,"y":7.35},{"x":1.0,"y":7.3},{"x":1.2,"y":6.8},{"x":1.4,"y":6.6},{"x":1.6,"y":6.5},{"x":0.72,"y":6.6},{"x":0.9,"y":6.15},{"x":1.1,"y":5.9},{"x":1.3,"y":6.05},{"x":1.7,"y":7.25},{"x":1.85,"y":6.6},{"x":2.05,"y":6.1},{"x":2.25,"y":5.6},{"x":2.45,"y":5.9},{"x":2.65,"y":5.3},{"x":2.85,"y":5.8},{"x":3.05,"y":5.1},{"x":3.25,"y":5.5},{"x":3.45,"y":4.9},{"x":3.65,"y":5.4},{"x":3.85,"y":4.6},{"x":4.05,"y":4.9},{"x":4.25,"y":4.3},{"x":4.45,"y":4.6},{"x":4.65,"y":3.9},{"x":4.85,"y":4.2},{"x":1.95,"y":4.7},{"x":2.15,"y":5.2},{"x":2.35,"y":4.5},{"x":2.55,"y":4.1},{"x":2.75,"y":4.8},{"x":2.95,"y":4.3},{"x":3.15,"y":3.7},{"x":3.35,"y":4.2},{"x":3.55,"y":3.9},{"x":1.5,"y":5.4},{"x":1.7,"y":4.9},{"x":1.2,"y":5.1},{"x":0.95,"y":4.5},{"x":0.8,"y":4.1},{"x":0.72,"y":7.15},{"x":0.78,"y":6.75},{"x":0.88,"y":6.35},{"x":0.92,"y":7.25},{"x":0.98,"y":6.85},{"x":1.08,"y":7.15},{"x":1.18,"y":6.65},{"x":1.28,"y":6.95},{"x":1.38,"y":6.75},{"x":1.48,"y":6.35},{"x":1.58,"y":7.1},{"x":1.68,"y":6.95},{"x":1.78,"y":6.45},{"x":1.88,"y":7.05},{"x":1.98,"y":6.75},{"x":2.08,"y":6.95},{"x":2.18,"y":6.35},{"x":2.28,"y":6.15},{"x":2.38,"y":6.95},{"x":2.48,"y":6.45},{"x":2.58,"y":6.75},{"x":2.68,"y":6.05},{"x":2.78,"y":6.55},{"x":2.98,"y":6.25},{"x":3.18,"y":5.85},{"x":3.38,"y":6.05},{"x":3.58,"y":5.75},{"x":3.78,"y":5.25},{"x":3.98,"y":5.55},{"x":4.18,"y":5.05},{"x":4.38,"y":5.35},{"x":4.58,"y":4.85},{"x":4.78,"y":4.45},{"x":4.98,"y":4.65},{"x":5.18,"y":3.95},{"x":5.38,"y":4.35},{"x":5.58,"y":3.85},{"x":5.78,"y":4.05},{"x":0.75,"y":5.55},{"x":0.85,"y":5.05},{"x":0.8,"y":4.55},{"x":1.05,"y":5.35},{"x":1.15,"y":4.75},{"x":1.35,"y":4.95},{"x":1.55,"y":5.15},{"x":1.75,"y":5.65},{"x":1.95,"y":5.35},{"x":2.15,"y":4.45},{"x":2.45,"y":5.25},{"x":2.85,"y":4.55}],
"b3": [{"x":0.69,"y":7.14},{"x":0.85,"y":7.17},{"x":1.01,"y":7.17},{"x":1.17,"y":7.21},{"x":0.77,"y":6.2},{"x":0.85,"y":6.03},{"x":1.3,"y":6.0},{"x":1.4,"y":5.99},{"x":1.68,"y":4.96},{"x":1.38,"y":4.46},{"x":1.19,"y":3.91},{"x":2.23,"y":3.81},{"x":2.47,"y":3.67},{"x":2.71,"y":3.67},{"x":2.15,"y":1.14},{"x":2.57,"y":1.17},{"x":3.94,"y":1.27},{"x":3.53,"y":2.53},{"x":3.91,"y":3.17},{"x":3.83,"y":3.49},{"x":4.45,"y":3.1},{"x":4.77,"y":2.24},{"x":5.1,"y":1.99},{"x":4.98,"y":3.13},{"x":5.27,"y":2.91},{"x":5.74,"y":2.06},{"x":5.87,"y":2.2},{"x":6.06,"y":1.67},{"x":6.17,"y":2.0},{"x":6.36,"y":1.77},{"x":6.19,"y":2.67},{"x":6.17,"y":3.13},{"x":5.85,"y":3.17},{"x":6.4,"y":0.89},{"x":6.77,"y":1.2},{"x":6.86,"y":1.17},{"x":6.94,"y":1.41},{"x":7.13,"y":1.14},{"x":7.27,"y":1.1},{"x":7.32,"y":0.96},{"x":6.79,"y":0.77},{"x":7.26,"y":2.91},{"x":7.04,"y":2.49},{"x":6.89,"y":3.29},{"x":6.7,"y":4.03},{"x":6.79,"y":3.99},{"x":6.77,"y":3.74},{"x":6.35,"y":4.39},{"x":5.87,"y":4.29},{"x":5.62,"y":4.34},{"x":5.64,"y":4.91},{"x":5.32,"y":5.39},{"x":6.19,"y":5.67},{"x":6.72,"y":5.63},{"x":6.79,"y":5.89},{"x":5.62,"y":6.46},{"x":5.32,"y":7.34},{"x":4.57,"y":7.31},{"x":4.28,"y":7.29},{"x":3.83,"y":7.2},{"x":2.93,"y":7.46},{"x":2.61,"y":7.43},{"x":1.91,"y":7.46},{"x":1.54,"y":7.29},{"x":7.02,"y":6.41},{"x":7.15,"y":6.36},{"x":7.34,"y":6.13},{"x":4.84,"y":6.91},{"x":1.5,"y":6.8},{"x":1.6,"y":6.4},{"x":1.7,"y":7.0},{"x":1.8,"y":6.1},{"x":1.9,"y":6.7},{"x":2.0,"y":5.8},{"x":2.0,"y":7.2},{"x":2.1,"y":6.4},{"x":2.2,"y":5.5},{"x":2.2,"y":6.9},{"x":2.3,"y":6.1},{"x":2.4,"y":5.2},{"x":2.4,"y":7.1},{"x":2.5,"y":6.6},{"x":2.5,"y":5.8},{"x":2.6,"y":6.2},{"x":2.7,"y":4.9},{"x":2.7,"y":7.0},{"x":2.8,"y":5.6},{"x":2.8,"y":6.5},{"x":2.9,"y":6.0},{"x":2.9,"y":5.2},{"x":3.0,"y":6.8},{"x":3.0,"y":4.6},{"x":3.0,"y":5.7},{"x":3.1,"y":6.3},{"x":3.1,"y":5.3},{"x":3.2,"y":7.0},{"x":3.2,"y":4.9},{"x":3.3,"y":6.0},{"x":3.3,"y":5.5},{"x":3.4,"y":6.6},{"x":3.4,"y":4.7},{"x":3.5,"y":5.9},{"x":3.5,"y":5.1},{"x":3.6,"y":6.4},{"x":3.6,"y":4.4},{"x":3.7,"y":5.6},{"x":3.7,"y":4.9},{"x":3.8,"y":6.1},{"x":3.8,"y":4.1},{"x":3.9,"y":5.3},{"x":3.9,"y":4.6},{"x":4.0,"y":5.8},{"x":4.0,"y":3.9},{"x":4.1,"y":5.0},{"x":4.1,"y":4.4},{"x":4.2,"y":6.2},{"x":4.2,"y":3.6},{"x":4.3,"y":5.4},{"x":4.3,"y":4.8},{"x":4.4,"y":4.2},{"x":4.4,"y":5.9},{"x":4.5,"y":5.1},{"x":4.5,"y":3.8},{"x":4.6,"y":4.6},{"x":4.6,"y":6.5},{"x":4.7,"y":5.5},{"x":4.7,"y":4.0},{"x":4.8,"y":4.9},{"x":4.9,"y":3.5},{"x":4.9,"y":5.8},{"x":5.0,"y":4.4},{"x":5.1,"y":5.2},{"x":5.2,"y":3.8},{"x":5.3,"y":4.7},{"x":5.4,"y":3.2},{"x":5.5,"y":5.6},{"x":5.6,"y":4.0},{"x":5.8,"y":5.0},{"x":5.9,"y":3.7},{"x":6.0,"y":4.6},{"x":1.3,"y":6.5},{"x":1.1,"y":6.9},{"x":2.6,"y":4.4},{"x":2.3,"y":4.0},{"x":1.8,"y":5.5},{"x":2.0,"y":4.8},{"x":3.2,"y":4.2},{"x":3.5,"y":3.6},{"x":4.0,"y":3.2},{"x":3.3,"y":7.3},{"x":3.9,"y":6.9},{"x":4.4,"y":6.8},{"x":5.0,"y":6.3},{"x":5.4,"y":6.0},{"x":2.8,"y":3.9},{"x":4.8,"y":2.8},{"x":5.3,"y":2.4},{"x":5.6,"y":3.0},{"x":1.65,"y":6.6},{"x":1.85,"y":6.9},{"x":2.05,"y":6.5},{"x":2.25,"y":6.7},{"x":2.45,"y":6.0},{"x":2.65,"y":6.4},{"x":2.85,"y":5.9},{"x":3.05,"y":6.1},{"x":3.25,"y":5.7},{"x":3.45,"y":5.4},{"x":3.65,"y":5.9},{"x":3.85,"y":5.0},{"x":4.05,"y":5.4},{"x":4.25,"y":4.5},{"x":4.45,"y":4.9},{"x":4.65,"y":4.3},{"x":4.85,"y":4.6},{"x":5.05,"y":4.1},{"x":5.25,"y":4.4},{"x":5.45,"y":3.7},{"x":2.35,"y":6.6},{"x":2.75,"y":6.2},{"x":3.15,"y":6.6},{"x":3.55,"y":6.2},{"x":3.95,"y":5.7},{"x":4.35,"y":5.2},{"x":4.75,"y":5.0},{"x":5.15,"y":4.7},{"x":5.55,"y":4.4},{"x":5.75,"y":3.4},{"x":2.95,"y":5.0},{"x":3.35,"y":4.5},{"x":3.75,"y":4.3},{"x":4.15,"y":3.9},{"x":4.55,"y":4.4},{"x":4.95,"y":3.9},{"x":5.35,"y":3.5},{"x":5.65,"y":3.8},{"x":6.05,"y":4.0},{"x":6.25,"y":3.4},{"x":1.95,"y":7.1},{"x":2.55,"y":7.3},{"x":3.05,"y":7.3},{"x":3.65,"y":6.8},{"x":4.25,"y":6.6},{"x":4.85,"y":5.4},{"x":5.25,"y":5.8},{"x":5.85,"y":4.8},{"x":3.45,"y":3.9},{"x":2.65,"y":5.4},{"x":1.25,"y":7.05},{"x":1.45,"y":6.75},{"x":1.55,"y":7.15},{"x":1.75,"y":6.35},{"x":1.95,"y":6.85},{"x":2.15,"y":6.15},{"x":2.35,"y":7.05},{"x":2.45,"y":6.35},{"x":2.65,"y":6.85},{"x":2.75,"y":5.75},{"x":2.95,"y":6.55},{"x":3.05,"y":5.45},{"x":3.25,"y":6.25},{"x":3.35,"y":5.15},{"x":3.55,"y":5.65},{"x":3.75,"y":6.45},{"x":3.85,"y":5.45},{"x":4.05,"y":4.75},{"x":4.15,"y":5.65},{"x":4.35,"y":4.35},{"x":4.45,"y":5.45},{"x":4.65,"y":4.75},{"x":4.75,"y":4.25},{"x":4.95,"y":5.05},{"x":5.05,"y":3.65},{"x":5.25,"y":4.25},{"x":5.45,"y":4.75},{"x":5.65,"y":4.15},{"x":5.85,"y":3.45},{"x":6.05,"y":4.25},{"x":6.25,"y":3.85},{"x":6.45,"y":3.55},{"x":2.25,"y":5.75},{"x":2.55,"y":5.35},{"x":2.85,"y":4.75},{"x":3.15,"y":4.45},{"x":3.45,"y":4.25},{"x":3.75,"y":4.65},{"x":4.05,"y":4.25},{"x":4.35,"y":3.85},{"x":4.65,"y":3.75},{"x":4.95,"y":3.35},{"x":5.25,"y":3.05},{"x":1.85,"y":6.45},{"x":2.05,"y":7.35},{"x":2.75,"y":7.25},{"x":3.45,"y":7.15},{"x":4.05,"y":6.65},{"x":4.65,"y":6.05},{"x":5.15,"y":5.45}],
"lines": [{"p":"T1","x1":1,"y1":1.9,"x2":7,"y2":3.87},{"p":"T2","x1":1,"y1":1.7,"x2":7,"y2":4.15},{"p":"T3","x1":1,"y1":2.0,"x2":7,"y2":4.98},{"p":"T4","x1":1,"y1":1.23,"x2":7,"y2":4.56},{"p":"B1","x1":1,"y1":6.17,"x2":7,"y2":4.13},{"p":"B2","x1":1,"y1":6.03,"x2":7,"y2":2.86},{"p":"B3","x1":1,"y1":6.86,"x2":7,"y2":3.37}],
"caps": [{"id":"T1","label":"이직의도와 물리적 환경"},{"id":"T2","label":"이직의도와 자율성결여"},{"id":"T3","label":"이직의도와 관계갈등"},{"id":"T4","label":"이직의도와 보상부적절"},{"id":"B1","label":"직무만족과 물리적 환경"},{"id":"B2","label":"직무만족과 관계갈등"},{"id":"B3","label":"직무만족과 보상부적절"}],
"side": [{"label":"수\n상\n함"}],
"one": [{}]
},
"vconcat": [
{"width": 913, "height": 5, "view": {"fill": "white", "stroke": null}, "data": {"values": []}, "mark": "point"},
{"width": 913, "height": 2, "view": {"fill": "#222222", "stroke": null}, "data": {"values": []}, "mark": "point"},
{"spacing": 0, "hconcat": [
 {"width": 40, "height": 537, "view": {"fill": "#f0f0f0", "stroke": null}, "data": {"name": "side"}, "mark": {"type": "text", "fontSize": 22, "lineBreak": "\n", "lineHeight": 31, "dx": 5, "dy": -30, "color": "#1a1a1a", "font": "Noto Sans CJK KR"}, "encoding": {"text": {"field": "label"}}},
 {"width": 1, "height": 537, "view": {"fill": null, "stroke": "#444444", "strokeDash": [1.5, 1.5], "strokeWidth": 0.8}, "data": {"values": []}, "mark": "point"},
 {"spacing": 0, "vconcat": [
  {"spacing": 0, "hconcat": [
   {"width": 219, "height": 213,
    "layer": [
     {"data": {"name": "one"}, "mark": {"type": "rect", "color": "white"},
      "encoding": {"x": {"datum": -0.17, "type": "quantitative", "scale": {"domain": [-0.17, 8.13], "range": [17, 212], "nice": false}, "axis": {"orient": "bottom", "offset": -21, "zindex": 1, "values": [0,2,4,6,8], "grid": false, "title": null, "tickSize": 3, "labelFontSize": 6, "labelFont": "DejaVu Sans", "labelPadding": 1, "labelFlush": false, "labelOverlap": false, "minExtent": 0, "domainColor": "#333", "tickColor": "#333", "labelColor": "#333"}},
                   "x2": {"datum": 8.13},
                   "y": {"datum": -0.27, "type": "quantitative", "scale": {"domain": [-0.27, 8.19], "range": [192, 10], "nice": false}, "axis": {"orient": "left", "offset": -17, "zindex": 1, "values": [0,2,4,6,8], "grid": true, "gridColor": "#edf3f4", "title": null, "tickSize": 3, "labelFontSize": 6, "labelFont": "DejaVu Sans", "labelAngle": -90, "labelPadding": 1, "labelFlush": false, "labelOverlap": false, "minExtent": 0, "domainColor": "#333", "tickColor": "#333", "labelColor": "#333"}},
                   "y2": {"datum": 8.19}}},
     {"data": {"name": "t1"}, "mark": {"type": "circle", "size": 24, "color": "#8fb3a9", "opacity": 1},
      "encoding": {"x": {"field": "x", "type": "quantitative", "scale": {"domain": [-0.17, 8.13], "range": [17, 212], "nice": false}}, "y": {"field": "y", "type": "quantitative", "scale": {"domain": [-0.27, 8.19], "range": [192, 10], "nice": false}}}},
     {"data": {"name": "lines"}, "transform": [{"filter": "datum.p == 'T1'"}], "mark": {"type": "rule", "color": "#000000", "strokeWidth": 1.5},
      "encoding": {"x": {"field": "x1", "type": "quantitative", "scale": {"domain": [-0.17, 8.13], "range": [17, 212], "nice": false}}, "y": {"field": "y1", "type": "quantitative", "scale": {"domain": [-0.27, 8.19], "range": [192, 10], "nice": false}}, "x2": {"field": "x2"}, "y2": {"field": "y2"}}}
    ]},
   {"width": 1, "height": 213, "view": {"fill": null, "stroke": "#444444", "strokeDash": [1.5, 1.5], "strokeWidth": 0.8}, "data": {"values": []}, "mark": "point"},
   {"width": 218, "height": 213,
    "layer": [
     {"data": {"name": "one"}, "mark": {"type": "rect", "color": "white"},
      "encoding": {"x": {"datum": -0.17, "type": "quantitative", "scale": {"domain": [-0.17, 8.13], "range": [17, 211], "nice": false}, "axis": {"orient": "bottom", "offset": -21, "zindex": 1, "values": [0,2,4,6,8], "grid": false, "title": null, "tickSize": 3, "labelFontSize": 6, "labelFont": "DejaVu Sans", "labelPadding": 1, "labelFlush": false, "labelOverlap": false, "minExtent": 0, "domainColor": "#333", "tickColor": "#333", "labelColor": "#333"}},
                   "x2": {"datum": 8.13},
                   "y": {"datum": -0.27, "type": "quantitative", "scale": {"domain": [-0.27, 8.19], "range": [192, 10], "nice": false}, "axis": {"orient": "left", "offset": -17, "zindex": 1, "values": [0,2,4,6,8], "grid": true, "gridColor": "#edf3f4", "title": null, "tickSize": 3, "labelFontSize": 6, "labelFont": "DejaVu Sans", "labelAngle": -90, "labelPadding": 1, "labelFlush": false, "labelOverlap": false, "minExtent": 0, "domainColor": "#333", "tickColor": "#333", "labelColor": "#333"}},
                   "y2": {"datum": 8.19}}},
     {"data": {"name": "t2"}, "mark": {"type": "circle", "size": 24, "color": "#8fb3a9", "opacity": 1},
      "encoding": {"x": {"field": "x", "type": "quantitative", "scale": {"domain": [-0.17, 8.13], "range": [17, 211], "nice": false}}, "y": {"field": "y", "type": "quantitative", "scale": {"domain": [-0.27, 8.19], "range": [192, 10], "nice": false}}}},
     {"data": {"name": "lines"}, "transform": [{"filter": "datum.p == 'T2'"}], "mark": {"type": "rule", "color": "#000000", "strokeWidth": 1.5},
      "encoding": {"x": {"field": "x1", "type": "quantitative", "scale": {"domain": [-0.17, 8.13], "range": [17, 211], "nice": false}}, "y": {"field": "y1", "type": "quantitative", "scale": {"domain": [-0.27, 8.19], "range": [192, 10], "nice": false}}, "x2": {"field": "x2"}, "y2": {"field": "y2"}}}
    ]},
   {"width": 1, "height": 213, "view": {"fill": null, "stroke": "#444444", "strokeDash": [1.5, 1.5], "strokeWidth": 0.8}, "data": {"values": []}, "mark": "point"},
   {"width": 217, "height": 213,
    "layer": [
     {"data": {"name": "one"}, "mark": {"type": "rect", "color": "white"},
      "encoding": {"x": {"datum": -0.17, "type": "quantitative", "scale": {"domain": [-0.17, 8.13], "range": [17, 210], "nice": false}, "axis": {"orient": "bottom", "offset": -21, "zindex": 1, "values": [0,2,4,6,8], "grid": false, "title": null, "tickSize": 3, "labelFontSize": 6, "labelFont": "DejaVu Sans", "labelPadding": 1, "labelFlush": false, "labelOverlap": false, "minExtent": 0, "domainColor": "#333", "tickColor": "#333", "labelColor": "#333"}},
                   "x2": {"datum": 8.13},
                   "y": {"datum": -0.27, "type": "quantitative", "scale": {"domain": [-0.27, 8.19], "range": [192, 10], "nice": false}, "axis": {"orient": "left", "offset": -17, "zindex": 1, "values": [0,2,4,6,8], "grid": true, "gridColor": "#edf3f4", "title": null, "tickSize": 3, "labelFontSize": 6, "labelFont": "DejaVu Sans", "labelAngle": -90, "labelPadding": 1, "labelFlush": false, "labelOverlap": false, "minExtent": 0, "domainColor": "#333", "tickColor": "#333", "labelColor": "#333"}},
                   "y2": {"datum": 8.19}}},
     {"data": {"name": "t3"}, "mark": {"type": "circle", "size": 24, "color": "#8fb3a9", "opacity": 1},
      "encoding": {"x": {"field": "x", "type": "quantitative", "scale": {"domain": [-0.17, 8.13], "range": [17, 210], "nice": false}}, "y": {"field": "y", "type": "quantitative", "scale": {"domain": [-0.27, 8.19], "range": [192, 10], "nice": false}}}},
     {"data": {"name": "lines"}, "transform": [{"filter": "datum.p == 'T3'"}], "mark": {"type": "rule", "color": "#000000", "strokeWidth": 1.5},
      "encoding": {"x": {"field": "x1", "type": "quantitative", "scale": {"domain": [-0.17, 8.13], "range": [17, 210], "nice": false}}, "y": {"field": "y1", "type": "quantitative", "scale": {"domain": [-0.27, 8.19], "range": [192, 10], "nice": false}}, "x2": {"field": "x2"}, "y2": {"field": "y2"}}}
    ]},
   {"width": 1, "height": 213, "view": {"fill": null, "stroke": "#444444", "strokeDash": [1.5, 1.5], "strokeWidth": 0.8}, "data": {"values": []}, "mark": "point"},
   {"width": 215, "height": 213,
    "layer": [
     {"data": {"name": "one"}, "mark": {"type": "rect", "color": "white"},
      "encoding": {"x": {"datum": -0.17, "type": "quantitative", "scale": {"domain": [-0.17, 8.13], "range": [17, 209], "nice": false}, "axis": {"orient": "bottom", "offset": -21, "zindex": 1, "values": [0,2,4,6,8], "grid": false, "title": null, "tickSize": 3, "labelFontSize": 6, "labelFont": "DejaVu Sans", "labelPadding": 1, "labelFlush": false, "labelOverlap": false, "minExtent": 0, "domainColor": "#333", "tickColor": "#333", "labelColor": "#333"}},
                   "x2": {"datum": 8.13},
                   "y": {"datum": -0.27, "type": "quantitative", "scale": {"domain": [-0.27, 8.19], "range": [192, 10], "nice": false}, "axis": {"orient": "left", "offset": -17, "zindex": 1, "values": [0,2,4,6,8], "grid": true, "gridColor": "#edf3f4", "title": null, "tickSize": 3, "labelFontSize": 6, "labelFont": "DejaVu Sans", "labelAngle": -90, "labelPadding": 1, "labelFlush": false, "labelOverlap": false, "minExtent": 0, "domainColor": "#333", "tickColor": "#333", "labelColor": "#333"}},
                   "y2": {"datum": 8.19}}},
     {"data": {"name": "t4"}, "mark": {"type": "circle", "size": 24, "color": "#8fb3a9", "opacity": 1},
      "encoding": {"x": {"field": "x", "type": "quantitative", "scale": {"domain": [-0.17, 8.13], "range": [17, 209], "nice": false}}, "y": {"field": "y", "type": "quantitative", "scale": {"domain": [-0.27, 8.19], "range": [192, 10], "nice": false}}}},
     {"data": {"name": "lines"}, "transform": [{"filter": "datum.p == 'T4'"}], "mark": {"type": "rule", "color": "#000000", "strokeWidth": 1.5},
      "encoding": {"x": {"field": "x1", "type": "quantitative", "scale": {"domain": [-0.17, 8.13], "range": [17, 209], "nice": false}}, "y": {"field": "y1", "type": "quantitative", "scale": {"domain": [-0.27, 8.19], "range": [192, 10], "nice": false}}, "x2": {"field": "x2"}, "y2": {"field": "y2"}}}
    ]}
  ]},
  {"width": 872, "height": 2, "view": {"fill": "#444444", "stroke": null}, "data": {"values": []}, "mark": "point"},
  {"spacing": 0, "hconcat": [
   {"width": 219, "height": 45, "view": {"fill": "#f0f0f0", "stroke": null}, "data": {"name": "caps"}, "transform": [{"filter": "datum.id == 'T1'"}], "mark": {"type": "text", "fontSize": 20.5, "color": "#1a1a1a", "font": "Noto Sans CJK KR"}, "encoding": {"text": {"field": "label"}}},
   {"width": 1, "height": 45, "view": {"fill": null, "stroke": "#444444", "strokeDash": [1.5, 1.5], "strokeWidth": 0.8}, "data": {"values": []}, "mark": "point"},
   {"width": 218, "height": 45, "view": {"fill": "#f0f0f0", "stroke": null}, "data": {"name": "caps"}, "transform": [{"filter": "datum.id == 'T2'"}], "mark": {"type": "text", "fontSize": 20.5, "color": "#1a1a1a", "font": "Noto Sans CJK KR"}, "encoding": {"text": {"field": "label"}}},
   {"width": 1, "height": 45, "view": {"fill": null, "stroke": "#444444", "strokeDash": [1.5, 1.5], "strokeWidth": 0.8}, "data": {"values": []}, "mark": "point"},
   {"width": 217, "height": 45, "view": {"fill": "#f0f0f0", "stroke": null}, "data": {"name": "caps"}, "transform": [{"filter": "datum.id == 'T3'"}], "mark": {"type": "text", "fontSize": 20.5, "color": "#1a1a1a", "font": "Noto Sans CJK KR"}, "encoding": {"text": {"field": "label"}}},
   {"width": 1, "height": 45, "view": {"fill": null, "stroke": "#444444", "strokeDash": [1.5, 1.5], "strokeWidth": 0.8}, "data": {"values": []}, "mark": "point"},
   {"width": 215, "height": 45, "view": {"fill": "#f0f0f0", "stroke": null}, "data": {"name": "caps"}, "transform": [{"filter": "datum.id == 'T4'"}], "mark": {"type": "text", "fontSize": 20.5, "color": "#1a1a1a", "font": "Noto Sans CJK KR"}, "encoding": {"text": {"field": "label"}}}
  ]},
  {"width": 872, "height": 2, "view": {"fill": "#444444", "stroke": null}, "data": {"values": []}, "mark": "point"},
  {"spacing": 0, "hconcat": [
   {"width": 291, "height": 230,
    "layer": [
     {"data": {"name": "one"}, "mark": {"type": "rect", "color": "white"},
      "encoding": {"x": {"datum": -0.16, "type": "quantitative", "scale": {"domain": [-0.16, 8.16], "range": [23, 284], "nice": false}, "axis": {"orient": "bottom", "offset": -24, "zindex": 1, "values": [0,2,4,6,8], "grid": false, "title": null, "tickSize": 3, "labelFontSize": 6, "labelFont": "DejaVu Sans", "labelPadding": 1, "labelFlush": false, "labelOverlap": false, "minExtent": 0, "domainColor": "#333", "tickColor": "#333", "labelColor": "#333"}},
                   "x2": {"datum": 8.16},
                   "y": {"datum": -0.2, "type": "quantitative", "scale": {"domain": [-0.2, 8.21], "range": [206, 10], "nice": false}, "axis": {"orient": "left", "offset": -23, "zindex": 1, "values": [0,2,4,6,8], "grid": true, "gridColor": "#edf3f4", "title": null, "tickSize": 3, "labelFontSize": 6, "labelFont": "DejaVu Sans", "labelAngle": -90, "labelPadding": 1, "labelFlush": false, "labelOverlap": false, "minExtent": 0, "domainColor": "#333", "tickColor": "#333", "labelColor": "#333"}},
                   "y2": {"datum": 8.21}}},
     {"data": {"name": "b1"}, "mark": {"type": "circle", "size": 30, "color": "#8fb3a9", "opacity": 1},
      "encoding": {"x": {"field": "x", "type": "quantitative", "scale": {"domain": [-0.16, 8.16], "range": [23, 284], "nice": false}}, "y": {"field": "y", "type": "quantitative", "scale": {"domain": [-0.2, 8.21], "range": [206, 10], "nice": false}}}},
     {"data": {"name": "lines"}, "transform": [{"filter": "datum.p == 'B1'"}], "mark": {"type": "rule", "color": "#000000", "strokeWidth": 1.6},
      "encoding": {"x": {"field": "x1", "type": "quantitative", "scale": {"domain": [-0.16, 8.16], "range": [23, 284], "nice": false}}, "y": {"field": "y1", "type": "quantitative", "scale": {"domain": [-0.2, 8.21], "range": [206, 10], "nice": false}}, "x2": {"field": "x2"}, "y2": {"field": "y2"}}}
    ]},
   {"width": 1, "height": 230, "view": {"fill": null, "stroke": "#444444", "strokeDash": [1.5, 1.5], "strokeWidth": 0.8}, "data": {"values": []}, "mark": "point"},
   {"width": 290, "height": 230,
    "layer": [
     {"data": {"name": "one"}, "mark": {"type": "rect", "color": "white"},
      "encoding": {"x": {"datum": -0.16, "type": "quantitative", "scale": {"domain": [-0.16, 8.16], "range": [23, 284], "nice": false}, "axis": {"orient": "bottom", "offset": -24, "zindex": 1, "values": [0,2,4,6,8], "grid": false, "title": null, "tickSize": 3, "labelFontSize": 6, "labelFont": "DejaVu Sans", "labelPadding": 1, "labelFlush": false, "labelOverlap": false, "minExtent": 0, "domainColor": "#333", "tickColor": "#333", "labelColor": "#333"}},
                   "x2": {"datum": 8.16},
                   "y": {"datum": -0.2, "type": "quantitative", "scale": {"domain": [-0.2, 8.21], "range": [206, 10], "nice": false}, "axis": {"orient": "left", "offset": -23, "zindex": 1, "values": [0,2,4,6,8], "grid": true, "gridColor": "#edf3f4", "title": null, "tickSize": 3, "labelFontSize": 6, "labelFont": "DejaVu Sans", "labelAngle": -90, "labelPadding": 1, "labelFlush": false, "labelOverlap": false, "minExtent": 0, "domainColor": "#333", "tickColor": "#333", "labelColor": "#333"}},
                   "y2": {"datum": 8.21}}},
     {"data": {"name": "b2"}, "mark": {"type": "circle", "size": 30, "color": "#8fb3a9", "opacity": 1},
      "encoding": {"x": {"field": "x", "type": "quantitative", "scale": {"domain": [-0.16, 8.16], "range": [23, 284], "nice": false}}, "y": {"field": "y", "type": "quantitative", "scale": {"domain": [-0.2, 8.21], "range": [206, 10], "nice": false}}}},
     {"data": {"name": "lines"}, "transform": [{"filter": "datum.p == 'B2'"}], "mark": {"type": "rule", "color": "#000000", "strokeWidth": 1.6},
      "encoding": {"x": {"field": "x1", "type": "quantitative", "scale": {"domain": [-0.16, 8.16], "range": [23, 284], "nice": false}}, "y": {"field": "y1", "type": "quantitative", "scale": {"domain": [-0.2, 8.21], "range": [206, 10], "nice": false}}, "x2": {"field": "x2"}, "y2": {"field": "y2"}}}
    ]},
   {"width": 1, "height": 230, "view": {"fill": null, "stroke": "#444444", "strokeDash": [1.5, 1.5], "strokeWidth": 0.8}, "data": {"values": []}, "mark": "point"},
   {"width": 289, "height": 230,
    "layer": [
     {"data": {"name": "one"}, "mark": {"type": "rect", "color": "white"},
      "encoding": {"x": {"datum": -0.16, "type": "quantitative", "scale": {"domain": [-0.16, 8.16], "range": [25, 285], "nice": false}, "axis": {"orient": "bottom", "offset": -24, "zindex": 1, "values": [0,2,4,6,8], "grid": false, "title": null, "tickSize": 3, "labelFontSize": 6, "labelFont": "DejaVu Sans", "labelPadding": 1, "labelFlush": false, "labelOverlap": false, "minExtent": 0, "domainColor": "#333", "tickColor": "#333", "labelColor": "#333"}},
                   "x2": {"datum": 8.16},
                   "y": {"datum": -0.2, "type": "quantitative", "scale": {"domain": [-0.2, 8.21], "range": [206, 10], "nice": false}, "axis": {"orient": "left", "offset": -25, "zindex": 1, "values": [0,2,4,6,8], "grid": true, "gridColor": "#edf3f4", "title": null, "tickSize": 3, "labelFontSize": 6, "labelFont": "DejaVu Sans", "labelAngle": -90, "labelPadding": 1, "labelFlush": false, "labelOverlap": false, "minExtent": 0, "domainColor": "#333", "tickColor": "#333", "labelColor": "#333"}},
                   "y2": {"datum": 8.21}}},
     {"data": {"name": "b3"}, "mark": {"type": "circle", "size": 30, "color": "#8fb3a9", "opacity": 1},
      "encoding": {"x": {"field": "x", "type": "quantitative", "scale": {"domain": [-0.16, 8.16], "range": [25, 285], "nice": false}}, "y": {"field": "y", "type": "quantitative", "scale": {"domain": [-0.2, 8.21], "range": [206, 10], "nice": false}}}},
     {"data": {"name": "lines"}, "transform": [{"filter": "datum.p == 'B3'"}], "mark": {"type": "rule", "color": "#000000", "strokeWidth": 1.6},
      "encoding": {"x": {"field": "x1", "type": "quantitative", "scale": {"domain": [-0.16, 8.16], "range": [25, 285], "nice": false}}, "y": {"field": "y1", "type": "quantitative", "scale": {"domain": [-0.2, 8.21], "range": [206, 10], "nice": false}}, "x2": {"field": "x2"}, "y2": {"field": "y2"}}}
    ]}
  ]},
  {"width": 872, "height": 2, "view": {"fill": "#444444", "stroke": null}, "data": {"values": []}, "mark": "point"},
  {"spacing": 0, "hconcat": [
   {"width": 291, "height": 43, "view": {"fill": "#f0f0f0", "stroke": null}, "data": {"name": "caps"}, "transform": [{"filter": "datum.id == 'B1'"}], "mark": {"type": "text", "fontSize": 20.5, "color": "#1a1a1a", "font": "Noto Sans CJK KR"}, "encoding": {"text": {"field": "label"}}},
   {"width": 1, "height": 43, "view": {"fill": null, "stroke": "#444444", "strokeDash": [1.5, 1.5], "strokeWidth": 0.8}, "data": {"values": []}, "mark": "point"},
   {"width": 290, "height": 43, "view": {"fill": "#f0f0f0", "stroke": null}, "data": {"name": "caps"}, "transform": [{"filter": "datum.id == 'B2'"}], "mark": {"type": "text", "fontSize": 20.5, "color": "#1a1a1a", "font": "Noto Sans CJK KR"}, "encoding": {"text": {"field": "label"}}},
   {"width": 1, "height": 43, "view": {"fill": null, "stroke": "#444444", "strokeDash": [1.5, 1.5], "strokeWidth": 0.8}, "data": {"values": []}, "mark": "point"},
   {"width": 289, "height": 43, "view": {"fill": "#f0f0f0", "stroke": null}, "data": {"name": "caps"}, "transform": [{"filter": "datum.id == 'B3'"}], "mark": {"type": "text", "fontSize": 20.5, "color": "#1a1a1a", "font": "Noto Sans CJK KR"}, "encoding": {"text": {"field": "label"}}}
  ]}
 ]}
]}
]
}
